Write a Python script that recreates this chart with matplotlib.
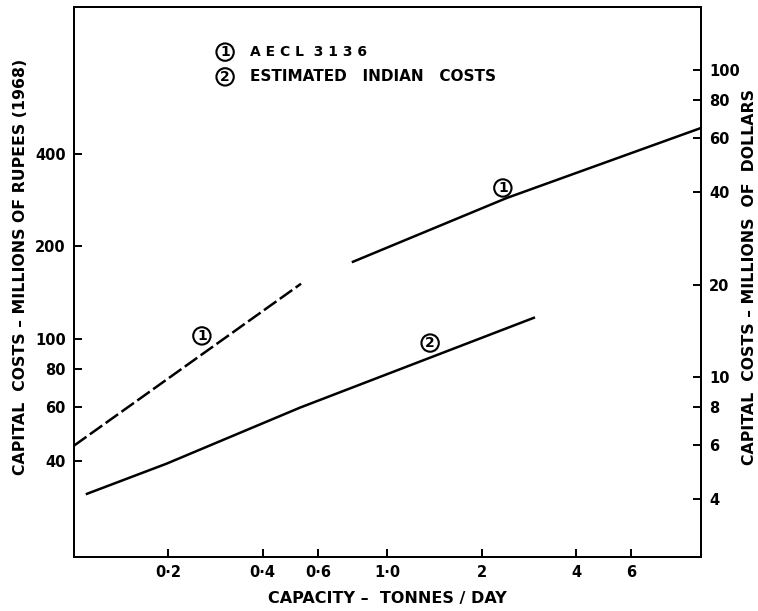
import matplotlib
matplotlib.use("Agg")
import matplotlib.pyplot as plt
from matplotlib.ticker import FixedLocator, FixedFormatter, NullLocator

# capacity (tonnes/day) vs capital cost (millions of rupees, 1968)
aecl_small_x = [0.10, 0.53]
aecl_small_y = [44.9, 151.0]
aecl_large_x = [0.776, 2.40, 10.0]
aecl_large_y = [178.0, 287.0, 485.0]
indian_x = [0.110, 0.197, 0.526, 2.93]
indian_y = [31.3, 39.2, 59.7, 117.0]

RS_PER_DOLLAR = 7.5
x_ticks = [0.2, 0.4, 0.6, 1.0, 2, 4, 6]
x_labels = ["0·2", "0·4", "0·6", "1·0", "2", "4", "6"]
rs_ticks = [40, 60, 80, 100, 200, 400]
usd_ticks = [4, 6, 8, 10, 20, 40, 60, 80, 100]

plt.rcParams["font.family"] = "DejaVu Sans"
plt.rcParams["font.weight"] = "bold"
plt.rcParams["lines.scale_dashes"] = False

fig = plt.figure(figsize=(7.58, 6.11), dpi=100)
ax = fig.add_axes([0.0976, 0.0884, 0.8272, 0.9001])
ax.set_xscale("log")
ax.set_yscale("log")
ax.set_xlim(0.1, 10)
ax.set_ylim(19.5, 1200)

ax.plot(aecl_small_x, aecl_small_y, color="black", lw=1.8, dashes=[11, 3])
ax.plot(aecl_large_x, aecl_large_y, color="black", lw=1.8)
ax.plot(indian_x, indian_y, color="black", lw=1.8)

for s in ax.spines.values():
    s.set_linewidth(1.4)

ax.xaxis.set_major_locator(FixedLocator(x_ticks))
ax.xaxis.set_major_formatter(FixedFormatter(x_labels))
ax.xaxis.set_minor_locator(NullLocator())
ax.yaxis.set_major_locator(FixedLocator(rs_ticks))
ax.yaxis.set_major_formatter(FixedFormatter([str(v) for v in rs_ticks]))
ax.yaxis.set_minor_locator(NullLocator())
ax.tick_params(direction="in", length=6, width=1.4, labelsize=10.5, pad=6)

ax2 = ax.twinx()
ax2.set_yscale("log")
ax2.set_ylim(19.5 / RS_PER_DOLLAR, 1200 / RS_PER_DOLLAR)
ax2.yaxis.set_major_locator(FixedLocator(usd_ticks))
ax2.yaxis.set_major_formatter(FixedFormatter([str(v) for v in usd_ticks]))
ax2.yaxis.set_minor_locator(NullLocator())
ax2.tick_params(direction="in", length=6, width=1.4, labelsize=10.5, pad=6)
for s in ax2.spines.values():
    s.set_linewidth(1.4)

ax.set_xlabel("CAPACITY –  TONNES / DAY", fontsize=11.5, fontweight="bold", labelpad=8)
ax.set_ylabel("CAPITAL  COSTS – MILLIONS OF RUPEES (1968)", fontsize=11.3,
              fontweight="bold")
ax.yaxis.set_label_coords(-0.074, 0.527)
ax2.set_ylabel("CAPITAL  COSTS – MILLIONS  OF  DOLLARS", fontsize=11.3,
               fontweight="bold", rotation=90)
ax2.yaxis.set_label_coords(1.065, 0.51)

circ = dict(boxstyle="circle,pad=0.12", fc="white", ec="black", lw=1.5)
t = ax.transAxes
ax.text(0.241, 0.918, "1", transform=t, ha="center", va="center", fontsize=10, bbox=circ)
ax.text(0.241, 0.873, "2", transform=t, ha="center", va="center", fontsize=10, bbox=circ)
ax.text(0.281, 0.918, "A E C L  3 1 3 6", transform=t, va="center", fontsize=10)
ax.text(0.281, 0.873, "ESTIMATED   INDIAN   COSTS", transform=t,
        va="center", fontsize=11)
ax.text(0.204, 0.402, "1", transform=t, ha="center", va="center", fontsize=10, bbox=circ)
ax.text(0.684, 0.671, "1", transform=t, ha="center", va="center", fontsize=10, bbox=circ)
ax.text(0.568, 0.389, "2", transform=t, ha="center", va="center", fontsize=10, bbox=circ)

fig.savefig("out.png", dpi=100)
